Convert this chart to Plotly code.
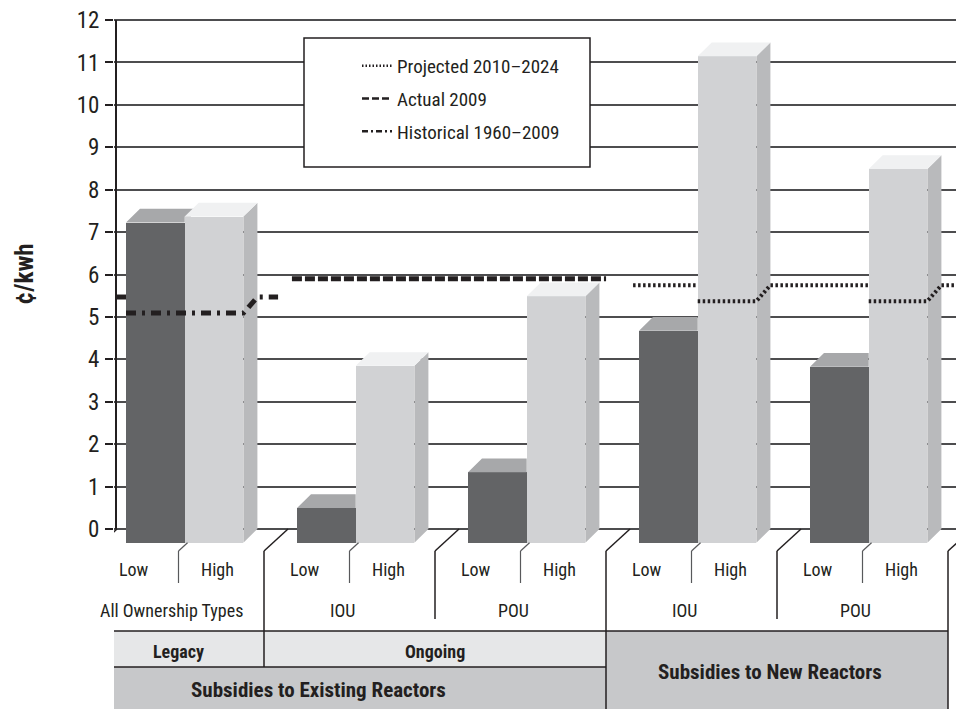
import plotly.graph_objects as go

# ---------------- data ----------------
group_labels = ["All Ownership Types", "IOU", "POU", "IOU", "POU"]
case_labels = ["Low", "High"]
low_values = [7.55, 0.82, 1.66, 5.00, 4.15]
high_values = [7.69, 4.17, 5.81, 11.47, 8.81]
middle_row_labels = ["Legacy", "Ongoing"]
middle_row_groups = [(0, 0), (1, 2)]
bottom_row_labels = ["Subsidies to Existing Reactors", "Subsidies to New Reactors"]
bottom_row_groups = [(0, 2), (3, 4)]
line_names = ["Projected 2010\u20132024", "Actual 2009", "Historical 1960\u20132009"]
line_levels = [5.75, 5.90, 5.47]
line_groups = [(3, 4), (1, 2), (0, 0)]
y_tick_values = list(range(0, 13))
y_title = "\u00a2/kwh"

# ---------------- geometry / style ----------------
W, H = 964, 709
PAGE_OFF = 8         # page body margin: figure pixel = screen pixel - PAGE_OFF
PPU = 42.41          # px per y unit
GW = 171.0           # px per category group
FLOOR_PX = 529 - PAGE_OFF
X0_PX = 117 - PAGE_OFF
PLOT_LEFT = 114 - PAGE_OFF
M_T = 18 - PAGE_OFF
x_lo = (PLOT_LEFT - X0_PX) / GW
x_hi = (W - X0_PX) / GW
y_lo = -(H - FLOOR_PX) / PPU
y_hi = y_lo + (H - M_T) / PPU


def px_x(d):
    return d / GW


def px_y(d):
    return d / PPU


def paper_x(screen_px):
    return (screen_px - PAGE_OFF - PLOT_LEFT) / (W - PLOT_LEFT)


def paper_y(screen_py):
    return (H - (screen_py - PAGE_OFF)) / (H - M_T)


BAR_OFF = px_x(23)
BW = px_x(58.7)
DX = px_x(14)
DY = px_y(13.7)
LDY = px_y(16)       # apparent drop of a reference line when drawn on a bar front
TDX = px_x(24)
TDY = px_y(22)
AXIS_X = px_x(116 - 117)

ROW_LH_BOT = -px_y(54)
ROW_GRP_DIV_BOT = -px_y(90)
ROW2_BOT = -px_y(102)
ROW3_BOT = -px_y(138)
TXT_LH = -px_y(40)
TXT_GRP = -px_y(81)
TXT_MID = -px_y(122)
TXT_EXIST = -px_y(161)
TXT_NEW = -px_y(143)

LINE_PADS = [(0.018, 0.0), (0.023, -0.14), (AXIS_X, -0.058)]
LINE_DASH = ["2.5px,2.5px", "10px,3px", "10px,6px,3px,6px"]
LINE_W = [4, 5, 5]
LEG_DASH = ["1.5px,2px", "7px,3px", "6px,3px,2px,3px"]

INK = "#231f20"
GRID = "#4d4d4f"
LOW_FRONT, LOW_TOP = "#636466", "#a7a8aa"
HIGH_FRONT, HIGH_TOP, HIGH_SIDE = "#d1d2d4", "#f0f1f2", "#b9babc"
ROW_LIGHT, ROW_DARK = "#e6e7e8", "#c7c8ca"
FONT = "Liberation Sans Narrow, Roboto Condensed, Arial Narrow, Liberation Sans, sans-serif"

n = len(group_labels)
low_x0 = [g + BAR_OFF for g in range(n)]
low_x1 = [x + BW for x in low_x0]
high_x1 = [x + BW for x in low_x1]

fig = go.Figure()

# ---------------- bar front faces ----------------
fig.add_trace(go.Bar(x=[x - DX + BW / 2 for x in low_x0], y=low_values, base=-DY, width=BW,
                     marker=dict(color=LOW_FRONT, line=dict(width=0)), showlegend=False,
                     name="Low", hoverinfo="skip"))
fig.add_trace(go.Bar(x=[x - DX + BW / 2 for x in low_x1], y=high_values, base=-DY, width=BW,
                     marker=dict(color=HIGH_FRONT, line=dict(width=0)), showlegend=False,
                     name="High", hoverinfo="skip"))


# ---------------- top / side faces ----------------
def poly_trace(polys, color):
    xs, ys = [], []
    for px_, py_ in polys:
        xs += px_ + [None]
        ys += py_ + [None]
    return go.Scatter(x=xs, y=ys, mode="lines", fill="toself", fillcolor=color,
                      line=dict(width=0, color=color), showlegend=False, hoverinfo="skip")


low_tops, high_tops, high_sides = [], [], []
for g in range(n):
    x0, x1, x2 = low_x0[g], low_x1[g], high_x1[g]
    v, vh = low_values[g], high_values[g]
    c = min(max(vh - DY, v - DY), v)
    xd = x1 - DX + (c - (v - DY)) * DX / DY
    low_tops.append(([x0 - DX, x1 - DX, x1 - DX, xd, x1, x0, x0 - DX],
                     [v - DY, v - DY, c, c, v, v, v - DY]))
    high_tops.append(([x1 - DX, x2 - DX, x2, x1, x1 - DX], [vh - DY, vh - DY, vh, vh, vh - DY]))
    high_sides.append(([x2 - DX, x2, x2, x2 - DX, x2 - DX], [-DY, 0, vh, vh - DY, -DY]))

fig.add_trace(poly_trace(low_tops, LOW_TOP))
fig.add_trace(poly_trace(high_sides, HIGH_SIDE))
fig.add_trace(poly_trace(high_tops, HIGH_TOP))

# ---------------- reference lines ----------------
bars_all = []
for g in range(n):
    bars_all.append((g, low_x0[g], low_x1[g], low_values[g]))
    bars_all.append((g, low_x1[g], high_x1[g], high_values[g]))

for i, name in enumerate(line_names):
    L = line_levels[i]
    g0, g1 = line_groups[i]
    xs_ = g0 + LINE_PADS[i][0]
    xe_ = g1 + 1 + LINE_PADS[i][1]
    blocks = []
    for (g, bx0, bx1, v) in bars_all:
        if g0 <= g <= g1 and v > L:
            if blocks and abs(blocks[-1][1] - bx0) < 1e-9:
                blocks[-1][1] = bx1
            else:
                blocks.append([bx0, bx1])
    px_, py_ = [xs_], [L]
    for bx0, bx1 in blocks:
        px_ += [bx0 - DX, None, bx0 - DX, bx1 - DX, bx1]
        py_ += [L, None, L - LDY, L - LDY, L]
    px_.append(xe_)
    py_.append(L)
    fig.add_trace(go.Scatter(x=px_, y=py_, mode="lines", showlegend=False, hoverinfo="skip",
                             line=dict(color=INK, width=LINE_W[i], dash=LINE_DASH[i])))
    fig.add_trace(go.Scatter(x=[None], y=[None], mode="lines", name=name, legendgroup=name,
                             line=dict(color=INK, width=2.5, dash=LEG_DASH[i])))

# ---------------- category table ----------------
shapes = []
annos = []


def seg(xa, ya, xb, yb, color=INK, width=1.5):
    shapes.append(dict(type="line", xref="x", yref="y", x0=xa, y0=ya, x1=xb, y1=yb,
                       line=dict(color=color, width=width)))


def rect(xa, ya, xb, yb, color):
    shapes.append(dict(type="rect", xref="x", yref="y", x0=xa, y0=ya, x1=xb, y1=yb,
                       fillcolor=color, line=dict(width=0), layer="below"))


edges = [g - TDX for g in range(n + 1)]
top_y = -TDY

# fills
rect(edges[0], ROW2_BOT, edges[3], ROW3_BOT, ROW_LIGHT)
rect(edges[0], ROW3_BOT, edges[3], y_lo, ROW_DARK)
rect(edges[3], ROW2_BOT, edges[5], y_lo, ROW_DARK)

section_edges = {0, 3, n}
mid_edges = {1}
for g in range(n + 1):
    seg(edges[g], top_y, g, 0)
    if g in section_edges:
        seg(edges[g], top_y, edges[g], y_lo)
    elif g in mid_edges:
        seg(edges[g], top_y, edges[g], ROW3_BOT)
    else:
        seg(edges[g], top_y, edges[g], ROW_GRP_DIV_BOT)
for g in range(n):
    cx = edges[g] + 0.5
    seg(cx, top_y, cx, ROW_LH_BOT, color="#58595b", width=1.2)
    seg(cx, top_y, cx + (TDY - DY) * TDX / TDY, -DY, color="#58595b", width=1.2)
seg(edges[0], ROW2_BOT, edges[n], ROW2_BOT)
seg(edges[0], ROW3_BOT, edges[3], ROW3_BOT)

# axis line
seg(AXIS_X, 0, AXIS_X, 12, width=2)

# legend box
shapes.append(dict(type="rect", xref="paper", yref="paper",
                   x0=paper_x(304), x1=paper_x(590), y0=paper_y(167), y1=paper_y(38),
                   fillcolor="white", line=dict(color=INK, width=1.5), layer="above"))


def txt(x, y, s, size, bold=False):
    annos.append(dict(x=x, y=y, xref="x", yref="y", text=("<b>%s</b>" % s) if bold else s,
                      showarrow=False, xanchor="center", yanchor="middle",
                      font=dict(family=FONT, size=size, color=INK)))


for g in range(n):
    txt(edges[g] + 0.24, TXT_LH, case_labels[0], 18)
    txt(edges[g] + 0.73, TXT_LH, case_labels[1], 18)
    txt(edges[g] + 0.46, TXT_GRP, group_labels[g], 18)
for lab, (a, b) in zip(middle_row_labels, middle_row_groups):
    txt((edges[a] + edges[b + 1]) / 2, TXT_MID, lab, 18, bold=True)
txt(edges[0] + 1.32, TXT_EXIST, bottom_row_labels[0], 21, bold=True)
txt((edges[3] + edges[5]) / 2 - 0.04, TXT_NEW, bottom_row_labels[1], 21, bold=True)

annos.append(dict(x=paper_x(25), y=6, xref="paper", yref="y", text="<b>%s</b>" % y_title,
                  textangle=-90, showarrow=False, xanchor="center", yanchor="middle",
                  font=dict(family=FONT, size=25, color=INK)))

fig.update_layout(
    width=W, height=H,
    margin=dict(l=PLOT_LEFT, r=0, t=M_T, b=0, pad=0),
    paper_bgcolor="white", plot_bgcolor="white",
    barmode="overlay", bargap=0,
    shapes=shapes, annotations=annos,
    font=dict(family=FONT, color=INK),
    xaxis=dict(range=[x_lo, x_hi], visible=False, fixedrange=True),
    yaxis=dict(range=[y_lo, y_hi], tickvals=y_tick_values, showgrid=True, gridcolor=GRID,
               gridwidth=1.5, zeroline=False, showline=False, ticks="outside", ticklen=8,
               tickwidth=1.5, tickcolor=INK, ticklabelstandoff=1, ticklabeloverflow="allow",
               tickfont=dict(family=FONT, size=23, color=INK)),
    legend=dict(x=paper_x(357), y=paper_y(47), xanchor="left", yanchor="top",
                bgcolor="rgba(0,0,0,0)", borderwidth=0, tracegroupgap=5,
                font=dict(family=FONT, size=19, color=INK)),
    showlegend=True,
)

fig.write_html("out.html")
